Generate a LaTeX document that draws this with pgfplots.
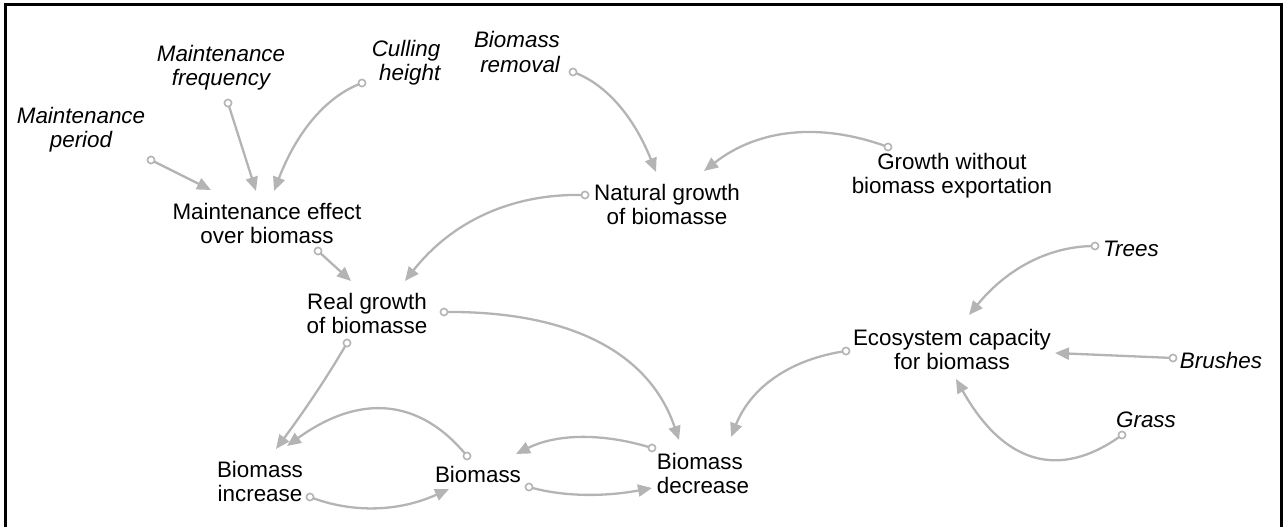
\documentclass[border=0pt]{standalone}
\usepackage{fontspec}
\setmainfont{Liberation Sans}
\usepackage{pgfplots}
\pgfplotsset{compat=1.18}
\usetikzlibrary{arrows.meta}
\definecolor{lnk}{HTML}{B4B4B4}
% positions are in pixels of the 1285x525 reference, y downwards
\tikzset{
  lk/.style={color=lnk, line width=1.15pt, -{Triangle[length=7pt,width=6pt]}},
  lbl/.style={inner sep=0pt, align=center, text=black},
  it/.style={font=\itshape\fontsize{11.2}{12}\selectfont},
}
% curved link: start, control 1, control 2, tip
\newcommand{\link}[4]{\draw[lk] (axis cs:#1) .. controls (axis cs:#2) and (axis cs:#3) .. (axis cs:#4);}
\begin{document}
\begin{tikzpicture}[font=\fontsize{11.2}{12}\selectfont]
\begin{axis}[width=642.5pt, height=262.5pt, scale only axis,
    xmin=0, xmax=1285, ymin=0, ymax=525, y dir=reverse,
    hide axis, clip=false]
  \addplot[draw=none] coordinates {(0,0)(1285,525)};
  % frame
  \addplot[black, line width=1.5pt, no markers] coordinates {(5,527)(5,5)(1281,5)(1281,527)};
  % straight links
  \addplot[lk, no markers] coordinates {(151,160)(211,190)};
  \addplot[lk, no markers] coordinates {(228,103)(256,191)};
  \addplot[lk, no markers] coordinates {(318,251)(351,281)};
  \addplot[lk, no markers] coordinates {(1173,358)(1055,353)};
  % curved links
  \link{362,83}{326,96.3}{296.7,132}{274,191}
  \link{573,72}{606.3,84}{633.7,116.7}{656,172}
  \link{888,147}{818.7,121.5}{757.3,129.5}{704,171}
  \link{585,195}{511.7,193}{451.7,221.7}{405,281}
  \link{347,343}{329,374.3}{305.3,409.7}{276,449}
  \link{444,312}{571.3,310.7}{649.7,353.3}{679,440}
  \link{467,456}{419,397.3}{359,394}{287,446}
  \link{310,497}{353.9,513.9}{400.2,511.2}{449,489}
  \link{652,448}{600.9,432.2}{555.6,434.2}{516,454}
  \link{529,487}{562.4,496.7}{603.4,497}{652,488}
  \link{846,351}{789.1,359.3}{750.7,388}{731,437}
  \link{1095,246}{1048.7,246}{1006.7,269}{969,315}
  \link{1122,435}{1058.3,481.3}{1003,462.6}{956,379}
  % small circles at the start of each link
  \addplot[only marks, mark=*, mark size=1.8pt,
    mark options={draw=lnk, fill=white, line width=0.8pt}]
    coordinates {(151,160)(228,103)(362,83)(573,72)(888,147)(585,195)
      (318,251)(347,343)(444,312)(467,456)(310,497)(652,448)(529,487)
      (846,351)(1095,246)(1173,358)(1122,435)};
  % labels
  \node[lbl, it] at (axis cs:81,130) {Maintenance\\period};
  \node[lbl, it] at (axis cs:221,68) {Maintenance\\frequency};
  \node[lbl, it, align=right] at (axis cs:406,63) {Culling\\height};
  \node[lbl, it, align=right] at (axis cs:517,52) {Biomass\\removal};
  \node[lbl] at (axis cs:267,223) {Maintenance effect\\over biomass};
  \node[lbl] at (axis cs:667,204) {Natural growth\\of biomasse};
  \node[lbl] at (axis cs:952,176) {Growth without\\biomass exportation};
  \node[lbl] at (axis cs:367,313) {Real growth\\of biomasse};
  \node[lbl] at (axis cs:952,349) {Ecosystem capacity\\for biomass};
  \node[lbl, it] at (axis cs:1131,249) {Trees};
  \node[lbl, it] at (axis cs:1221,360) {Brushes};
  \node[lbl, it] at (axis cs:1146,420) {Grass};
  \node[lbl] at (axis cs:260,481) {Biomass\\increase};
  \node[lbl] at (axis cs:478,474) {Biomass};
  \node[lbl, align=left] at (axis cs:703,473) {Biomass\\decrease};
\end{axis}
\end{tikzpicture}
\end{document}
